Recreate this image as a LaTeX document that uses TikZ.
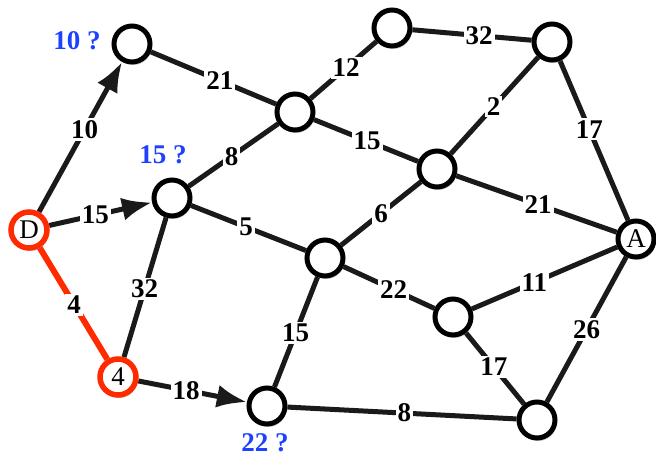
\documentclass[tikz,border=0pt]{standalone}
\usepackage{fontspec}
\setmainfont{Liberation Serif}
\usetikzlibrary{arrows.meta, shadows, backgrounds}
\definecolor{cPath}{HTML}{FF2A00}
\definecolor{cEst}{HTML}{1E40FF}
\definecolor{cEdge}{HTML}{1A1A1A}

\begin{document}
\begin{tikzpicture}[
    x=1pt, y=-1pt,
    vtx/.style={circle, draw=black, line width=5pt, fill=white,
                minimum size=36pt, inner sep=0pt,
                font=\fontsize{27}{27}\selectfont,
                drop shadow={shadow xshift=1.5pt, shadow yshift=-3pt,
                             opacity=0.4}},
    src/.style={vtx, draw=cPath, line width=5.5pt},
    edge/.style={draw=cEdge, line width=5pt},
    hop/.style={edge, -{Latex[length=30pt, width=23pt]}},
    best/.style={draw=cPath, line width=6pt},
    wt/.style={fill=white, inner sep=2pt,
               font=\fontsize{27}{27}\selectfont\bfseries},
    est/.style={font=\fontsize{27}{27}\selectfont\bfseries, text=cEst,
                inner sep=0pt},
]
\useasboundingbox (0,0) rectangle (656,460);

% ===================== Sommets =====================
\node[src] (vD) at (29,230) {D};
\node[src] (vE) at (118,377) {4};
\node[vtx] (vB) at (132,44) {};
\node[vtx] (vC) at (172,198) {};
\node[vtx] (vF) at (267,406) {};
\node[vtx] (vG) at (295,112) {};
\node[vtx] (vH) at (392,28) {};
\node[vtx] (vI) at (552,42) {};
\node[vtx] (vJ) at (437,169) {};
\node[vtx] (vK) at (325,258) {};
\node[vtx] (vL) at (453,317) {};
\node[vtx] (vM) at (537,420) {};
\node[vtx] (vA) at (636,239) {A};

% ===================== Estimations provisoires =====================
\node[est] (eB) at (77,41) {10 ?};
\node[est] (eC) at (163,155) {15 ?};
\node[est] (eF) at (265,443) {22 ?};

% ===================== Aretes =====================
\begin{scope}[on background layer]
\draw[hop] (vD) -- node[wt, pos=0.55] {10} (vB);
\draw[hop] (vD) -- node[wt, pos=0.45] {15} (vC);
\draw[hop] (vE) -- node[wt, pos=0.44] {18} (vF);
\draw[best] (vD) -- node[wt, pos=0.51] {4} (vE);
\foreach \a/\b/\w/\p in {vE/vC/32/0.49, vB/vG/21/0.55, vC/vG/8/0.48,
                         vG/vH/12/0.54, vH/vI/32/0.56, vG/vJ/15/0.51,
                         vJ/vI/2/0.49, vI/vA/17/0.43, vJ/vA/21/0.51,
                         vC/vK/5/0.48, vK/vJ/6/0.5, vK/vL/22/0.55,
                         vL/vA/11/0.43, vL/vM/17/0.48, vM/vA/26/0.5,
                         vF/vK/15/0.49, vF/vM/8/0.51}{
    \draw[edge] (\a) -- node[wt, pos=\p] {\w} (\b);
}
\end{scope}

\end{tikzpicture}
\end{document}
